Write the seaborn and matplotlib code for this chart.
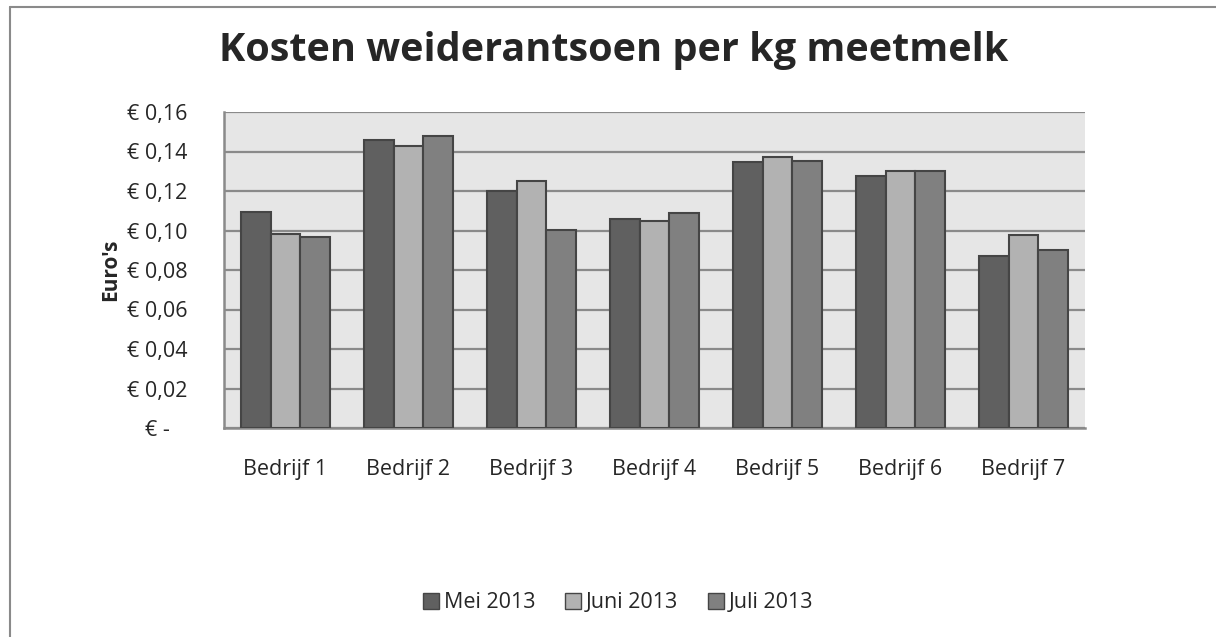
import pandas as pd
import numpy as np
import matplotlib.pyplot as plt
import seaborn as sns
from matplotlib.lines import Line2D

# Data
bedrijven = ['Bedrijf 1', 'Bedrijf 2', 'Bedrijf 3', 'Bedrijf 4', 'Bedrijf 5', 'Bedrijf 6', 'Bedrijf 7']
maanden = ['Mei 2013', 'Juni 2013', 'Juli 2013']
mei = [0.1094, 0.1456, 0.1202, 0.1056, 0.1345, 0.1277, 0.0871]
juni = [0.0980, 0.1426, 0.1249, 0.1050, 0.1370, 0.1303, 0.0977]
juli = [0.0965, 0.1476, 0.1001, 0.1087, 0.1352, 0.1301, 0.0900]
yticks = [0, 0.02, 0.04, 0.06, 0.08, 0.10, 0.12, 0.14, 0.16]
ytick_labels = ['€ -', '€ 0,02', '€ 0,04', '€ 0,06', '€ 0,08', '€ 0,10', '€ 0,12', '€ 0,14', '€ 0,16']

df = pd.DataFrame({'bedrijf': bedrijven * 3,
                   'maand': [m for m in maanden for _ in bedrijven],
                   'kosten': mei + juni + juli})

sns.set_style('white')
plt.rcParams['font.family'] = ['Open Sans', 'DejaVu Sans']

fig = plt.figure(figsize=(12.16, 6.37), dpi=100)
ax = fig.add_axes([224 / 1216, 1 - 428 / 637, (1085 - 224) / 1216, 316 / 637])

palette = ['#606060', '#b2b2b2', '#808080']
sns.barplot(data=df, x='bedrijf', y='kosten', hue='maand', palette=palette,
            width=0.72, edgecolor='#454545', linewidth=1.5, saturation=1, ax=ax, zorder=3)

ax.set_facecolor('#e6e6e6')
ax.set_ylim(0, 0.16)
ax.set_yticks(yticks)
ax.set_yticklabels(ytick_labels, fontsize=15.5)
ax.tick_params(axis='x', labelsize=15.5, pad=22, length=0)
ax.tick_params(axis='y', pad=48, length=0)
for lbl in ax.get_yticklabels():
    lbl.set_horizontalalignment('center')
ax.yaxis.grid(True, color='#8a8a8a', linewidth=1.6, zorder=0)
ax.set_axisbelow(True)
for s in ['top', 'right']:
    ax.spines[s].set_visible(False)
for s in ['left', 'bottom']:
    ax.spines[s].set_color('#8a8a8a')
    ax.spines[s].set_linewidth(1.8)
ax.set_xlabel('')
ax.set_ylabel("Euro's", fontsize=15, fontweight='bold', labelpad=4)

fig.text(0.505, 1 - 50 / 637, 'Kosten weiderantsoen per kg meetmelk', ha='center', va='center',
         fontsize=28.5, fontweight='bold')

ax.legend_.remove()
handles = [plt.Rectangle((0, 0), 1, 1, facecolor=c, edgecolor='#454545', linewidth=1) for c in palette]
fig.legend(handles, maanden, loc='center', bbox_to_anchor=(618 / 1216, 1 - 603 / 637), ncol=3,
           frameon=False, fontsize=15.5, handlelength=0.75, handleheight=0.75,
           handletextpad=0.2, columnspacing=1.4)

# outer chart border (only top and left visible)
fig.add_artist(Line2D([10 / 1216, 1.0], [1 - 7 / 637, 1 - 7 / 637], color='#8a8a8a', linewidth=1.5))
fig.add_artist(Line2D([10 / 1216, 10 / 1216], [0, 1 - 7 / 637], color='#8a8a8a', linewidth=1.5))

fig.savefig('out.png', dpi=100)
